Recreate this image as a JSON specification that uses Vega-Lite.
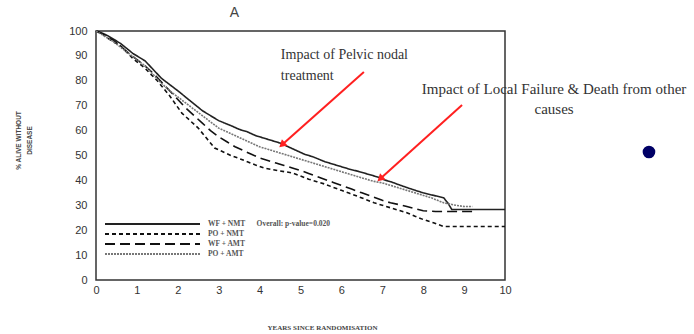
{
  "$schema": "https://vega.github.io/schema/vega-lite/v6.json",
  "width": 409,
  "height": 249,
  "autosize": {"type": "none"},
  "padding": {"left": 96, "top": 31, "right": 189, "bottom": 54},
  "background": "white",
  "title": {"text": "A", "anchor": "middle", "frame": "group", "dx": -66, "offset": 5, "fontSize": 14, "font": "Liberation Sans", "fontWeight": "normal", "color": "#444"},
  "config": {
    "view": {"stroke": "#333", "strokeWidth": 1.5},
    "axis": {"grid": false, "domain": false, "labelFont": "Liberation Sans", "labelFontSize": 11, "labelColor": "#333"},
    "legend": {"padding": 0}
  },
  "datasets": {
    "curves": [
      {"x": 0, "y": 100, "g": "WF + NMT"}, {"x": 0.1, "y": 99.5, "g": "WF + NMT"}, {"x": 0.2, "y": 98.8, "g": "WF + NMT"}, {"x": 0.3, "y": 98, "g": "WF + NMT"}, {"x": 0.45, "y": 96.5, "g": "WF + NMT"}, {"x": 0.6, "y": 95, "g": "WF + NMT"}, {"x": 0.75, "y": 93, "g": "WF + NMT"}, {"x": 0.9, "y": 91, "g": "WF + NMT"}, {"x": 1.05, "y": 89.5, "g": "WF + NMT"}, {"x": 1.2, "y": 88, "g": "WF + NMT"}, {"x": 1.4, "y": 84.5, "g": "WF + NMT"}, {"x": 1.6, "y": 81, "g": "WF + NMT"}, {"x": 1.8, "y": 78.5, "g": "WF + NMT"}, {"x": 2.0, "y": 76, "g": "WF + NMT"}, {"x": 2.15, "y": 74, "g": "WF + NMT"}, {"x": 2.3, "y": 72, "g": "WF + NMT"}, {"x": 2.45, "y": 70, "g": "WF + NMT"}, {"x": 2.6, "y": 68, "g": "WF + NMT"}, {"x": 2.8, "y": 66, "g": "WF + NMT"}, {"x": 3.0, "y": 64, "g": "WF + NMT"}, {"x": 3.15, "y": 63, "g": "WF + NMT"}, {"x": 3.3, "y": 62, "g": "WF + NMT"}, {"x": 3.5, "y": 60.5, "g": "WF + NMT"}, {"x": 3.7, "y": 59.5, "g": "WF + NMT"}, {"x": 3.9, "y": 58, "g": "WF + NMT"}, {"x": 4.1, "y": 57, "g": "WF + NMT"}, {"x": 4.3, "y": 56, "g": "WF + NMT"}, {"x": 4.5, "y": 55, "g": "WF + NMT"}, {"x": 4.7, "y": 53.5, "g": "WF + NMT"}, {"x": 4.9, "y": 52, "g": "WF + NMT"}, {"x": 5.1, "y": 50.5, "g": "WF + NMT"}, {"x": 5.3, "y": 49.5, "g": "WF + NMT"}, {"x": 5.45, "y": 48.5, "g": "WF + NMT"}, {"x": 5.6, "y": 47.5, "g": "WF + NMT"}, {"x": 5.8, "y": 46.5, "g": "WF + NMT"}, {"x": 6.0, "y": 45.5, "g": "WF + NMT"}, {"x": 6.2, "y": 44.5, "g": "WF + NMT"}, {"x": 6.4, "y": 43.7, "g": "WF + NMT"}, {"x": 6.65, "y": 42.5, "g": "WF + NMT"}, {"x": 6.9, "y": 41.3, "g": "WF + NMT"}, {"x": 7.05, "y": 40.2, "g": "WF + NMT"}, {"x": 7.2, "y": 39.5, "g": "WF + NMT"}, {"x": 7.35, "y": 38.6, "g": "WF + NMT"}, {"x": 7.5, "y": 37.7, "g": "WF + NMT"}, {"x": 7.75, "y": 36.3, "g": "WF + NMT"}, {"x": 8.0, "y": 35, "g": "WF + NMT"}, {"x": 8.25, "y": 34, "g": "WF + NMT"}, {"x": 8.5, "y": 33, "g": "WF + NMT"}, {"x": 8.6, "y": 31, "g": "WF + NMT"}, {"x": 8.7, "y": 28.3, "g": "WF + NMT"}, {"x": 10, "y": 28.3, "g": "WF + NMT"},
      {"x": 0, "y": 100, "g": "PO + NMT"}, {"x": 0.15, "y": 99, "g": "PO + NMT"}, {"x": 0.3, "y": 97, "g": "PO + NMT"}, {"x": 0.45, "y": 95.5, "g": "PO + NMT"}, {"x": 0.6, "y": 94, "g": "PO + NMT"}, {"x": 0.75, "y": 91.5, "g": "PO + NMT"}, {"x": 0.9, "y": 89, "g": "PO + NMT"}, {"x": 1.05, "y": 87, "g": "PO + NMT"}, {"x": 1.2, "y": 85, "g": "PO + NMT"}, {"x": 1.35, "y": 82.5, "g": "PO + NMT"}, {"x": 1.5, "y": 80, "g": "PO + NMT"}, {"x": 1.65, "y": 77, "g": "PO + NMT"}, {"x": 1.8, "y": 74, "g": "PO + NMT"}, {"x": 1.95, "y": 70.5, "g": "PO + NMT"}, {"x": 2.1, "y": 67, "g": "PO + NMT"}, {"x": 2.3, "y": 64, "g": "PO + NMT"}, {"x": 2.5, "y": 61, "g": "PO + NMT"}, {"x": 2.7, "y": 57, "g": "PO + NMT"}, {"x": 2.9, "y": 53, "g": "PO + NMT"}, {"x": 3.1, "y": 51.5, "g": "PO + NMT"}, {"x": 3.3, "y": 50, "g": "PO + NMT"}, {"x": 3.5, "y": 48.8, "g": "PO + NMT"}, {"x": 3.7, "y": 47.5, "g": "PO + NMT"}, {"x": 3.9, "y": 46.2, "g": "PO + NMT"}, {"x": 4.1, "y": 45, "g": "PO + NMT"}, {"x": 4.3, "y": 44.4, "g": "PO + NMT"}, {"x": 4.5, "y": 43.8, "g": "PO + NMT"}, {"x": 4.8, "y": 43, "g": "PO + NMT"}, {"x": 5.0, "y": 41.8, "g": "PO + NMT"}, {"x": 5.2, "y": 40.5, "g": "PO + NMT"}, {"x": 5.4, "y": 39.5, "g": "PO + NMT"}, {"x": 5.6, "y": 38.5, "g": "PO + NMT"}, {"x": 5.8, "y": 37.2, "g": "PO + NMT"}, {"x": 6.0, "y": 36, "g": "PO + NMT"}, {"x": 6.2, "y": 34.8, "g": "PO + NMT"}, {"x": 6.4, "y": 33.6, "g": "PO + NMT"}, {"x": 6.6, "y": 32.3, "g": "PO + NMT"}, {"x": 6.8, "y": 31, "g": "PO + NMT"}, {"x": 7.0, "y": 30, "g": "PO + NMT"}, {"x": 7.2, "y": 29, "g": "PO + NMT"}, {"x": 7.4, "y": 28, "g": "PO + NMT"}, {"x": 7.6, "y": 27, "g": "PO + NMT"}, {"x": 7.8, "y": 25.6, "g": "PO + NMT"}, {"x": 8.0, "y": 24.3, "g": "PO + NMT"}, {"x": 8.25, "y": 23, "g": "PO + NMT"}, {"x": 8.5, "y": 21.5, "g": "PO + NMT"}, {"x": 10, "y": 21.5, "g": "PO + NMT"},
      {"x": 0, "y": 100, "g": "WF + AMT"}, {"x": 0.2, "y": 98.5, "g": "WF + AMT"}, {"x": 0.4, "y": 96.5, "g": "WF + AMT"}, {"x": 0.6, "y": 94, "g": "WF + AMT"}, {"x": 0.8, "y": 91, "g": "WF + AMT"}, {"x": 1.0, "y": 88.5, "g": "WF + AMT"}, {"x": 1.2, "y": 86, "g": "WF + AMT"}, {"x": 1.4, "y": 83, "g": "WF + AMT"}, {"x": 1.6, "y": 79.5, "g": "WF + AMT"}, {"x": 1.8, "y": 76, "g": "WF + AMT"}, {"x": 2.0, "y": 72.5, "g": "WF + AMT"}, {"x": 2.2, "y": 69, "g": "WF + AMT"}, {"x": 2.4, "y": 66, "g": "WF + AMT"}, {"x": 2.6, "y": 63, "g": "WF + AMT"}, {"x": 2.8, "y": 60, "g": "WF + AMT"}, {"x": 3.0, "y": 57.5, "g": "WF + AMT"}, {"x": 3.2, "y": 55.5, "g": "WF + AMT"}, {"x": 3.4, "y": 53.5, "g": "WF + AMT"}, {"x": 3.6, "y": 52, "g": "WF + AMT"}, {"x": 3.8, "y": 50.5, "g": "WF + AMT"}, {"x": 4.0, "y": 49, "g": "WF + AMT"}, {"x": 4.2, "y": 48, "g": "WF + AMT"}, {"x": 4.4, "y": 47, "g": "WF + AMT"}, {"x": 4.6, "y": 46, "g": "WF + AMT"}, {"x": 4.8, "y": 45, "g": "WF + AMT"}, {"x": 5.0, "y": 44, "g": "WF + AMT"}, {"x": 5.2, "y": 42.8, "g": "WF + AMT"}, {"x": 5.4, "y": 41.6, "g": "WF + AMT"}, {"x": 5.6, "y": 40.4, "g": "WF + AMT"}, {"x": 5.8, "y": 39.2, "g": "WF + AMT"}, {"x": 6.0, "y": 38, "g": "WF + AMT"}, {"x": 6.25, "y": 36.5, "g": "WF + AMT"}, {"x": 6.5, "y": 35, "g": "WF + AMT"}, {"x": 6.75, "y": 33.5, "g": "WF + AMT"}, {"x": 7.0, "y": 32, "g": "WF + AMT"}, {"x": 7.2, "y": 31, "g": "WF + AMT"}, {"x": 7.4, "y": 30.3, "g": "WF + AMT"}, {"x": 7.6, "y": 29.5, "g": "WF + AMT"}, {"x": 7.8, "y": 28.6, "g": "WF + AMT"}, {"x": 8.0, "y": 27.8, "g": "WF + AMT"}, {"x": 8.3, "y": 27.5, "g": "WF + AMT"}, {"x": 9.3, "y": 27.5, "g": "WF + AMT"},
      {"x": 0, "y": 100, "g": "PO + AMT"}, {"x": 0.2, "y": 98, "g": "PO + AMT"}, {"x": 0.4, "y": 96, "g": "PO + AMT"}, {"x": 0.6, "y": 93.5, "g": "PO + AMT"}, {"x": 0.8, "y": 91, "g": "PO + AMT"}, {"x": 1.0, "y": 88.5, "g": "PO + AMT"}, {"x": 1.2, "y": 86, "g": "PO + AMT"}, {"x": 1.4, "y": 82.5, "g": "PO + AMT"}, {"x": 1.6, "y": 79, "g": "PO + AMT"}, {"x": 1.8, "y": 76, "g": "PO + AMT"}, {"x": 2.0, "y": 73.5, "g": "PO + AMT"}, {"x": 2.2, "y": 71, "g": "PO + AMT"}, {"x": 2.4, "y": 68.5, "g": "PO + AMT"}, {"x": 2.6, "y": 66, "g": "PO + AMT"}, {"x": 2.8, "y": 63.5, "g": "PO + AMT"}, {"x": 3.0, "y": 61, "g": "PO + AMT"}, {"x": 3.2, "y": 59.5, "g": "PO + AMT"}, {"x": 3.4, "y": 58, "g": "PO + AMT"}, {"x": 3.6, "y": 56.5, "g": "PO + AMT"}, {"x": 3.8, "y": 55, "g": "PO + AMT"}, {"x": 4.0, "y": 53.5, "g": "PO + AMT"}, {"x": 4.2, "y": 52.5, "g": "PO + AMT"}, {"x": 4.4, "y": 51.5, "g": "PO + AMT"}, {"x": 4.6, "y": 50.5, "g": "PO + AMT"}, {"x": 4.8, "y": 49.5, "g": "PO + AMT"}, {"x": 5.0, "y": 48.5, "g": "PO + AMT"}, {"x": 5.3, "y": 47, "g": "PO + AMT"}, {"x": 5.6, "y": 45.5, "g": "PO + AMT"}, {"x": 5.9, "y": 44, "g": "PO + AMT"}, {"x": 6.2, "y": 42.5, "g": "PO + AMT"}, {"x": 6.5, "y": 41, "g": "PO + AMT"}, {"x": 6.8, "y": 39.6, "g": "PO + AMT"}, {"x": 7.0, "y": 39, "g": "PO + AMT"}, {"x": 7.3, "y": 37.5, "g": "PO + AMT"}, {"x": 7.6, "y": 36, "g": "PO + AMT"}, {"x": 7.9, "y": 34.5, "g": "PO + AMT"}, {"x": 8.2, "y": 33, "g": "PO + AMT"}, {"x": 8.5, "y": 31, "g": "PO + AMT"}, {"x": 8.8, "y": 30, "g": "PO + AMT"}, {"x": 9.0, "y": 29.5, "g": "PO + AMT"}, {"x": 9.2, "y": 29.5, "g": "PO + AMT"}
    ],
    "note1": [
      {"x": 4.52, "y": 90.4, "label": ["Impact of Pelvic nodal", "treatment"]}
    ],
    "note2": [
      {"x": 11.2, "y": 76.7, "label": ["Impact of Local Failure & Death from other", "causes"]}
    ],
    "arrows": [
      {"x": 6.55, "y": 83.5, "x2": 4.57, "y2": 54.6},
      {"x": 8.95, "y": 70.3, "x2": 6.97, "y2": 41.0}
    ],
    "dot": [{"x": 13.52, "y": 51.4}]
  },
  "encoding": {
    "x": {"field": "x", "type": "quantitative",
      "scale": {"domain": [0, 10], "nice": false, "zero": false},
      "axis": {"values": [0,1,2,3,4,5,6,7,8,9,10], "ticks": false, "labelPadding": 4, "labelFlush": false,
        "title": "YEARS SINCE  RANDOMISATION", "titleFont": "Liberation Serif", "titleFontSize": 7, "titleFontWeight": "bold", "titleColor": "#444", "titleX": 226, "titleY": 47, "titleBaseline": "middle"}},
    "y": {"field": "y", "type": "quantitative",
      "scale": {"domain": [0, 100], "nice": false},
      "axis": {"values": [0,10,20,30,40,50,60,70,80,90,100], "ticks": false, "labelPadding": 9,
        "title": ["% ALIVE WITHOUT", "DISEASE"], "titleFont": "Liberation Sans", "titleFontSize": 6.5, "titleFontWeight": "bold", "titleColor": "#444", "titleLineHeight": 11, "titleX": -75, "titleY": 109, "titleAngle": -90}}
  },
  "layer": [
    {
      "data": {"name": "curves"},
      "mark": {"type": "line", "strokeWidth": 1.6},
      "encoding": {
        "detail": {"field": "g"},
        "stroke": {"field": "g", "type": "nominal",
          "scale": {"domain": ["WF + NMT", "PO + NMT", "WF + AMT", "PO + AMT"], "range": ["#222222", "#111111", "#111111", "#777777"]},
          "legend": {"orient": "none", "legendX": 3, "legendY": 187, "title": null,
            "symbolType": "M0,0H19", "symbolSize": 100, "symbolStrokeWidth": 1.8, "labelOffset": 97, "rowPadding": 0,
            "labelFont": "Liberation Serif", "labelFontSize": 7.5, "labelFontWeight": "bold", "labelColor": "#555", "labelLimit": 300,
            "labelExpr": "datum.label == 'WF + NMT' ? 'WF + NMT\u00a0\u00a0\u00a0\u00a0\u00a0\u00a0Overall: p-value=0.020' : datum.label"}},
        "strokeDash": {"field": "g", "type": "nominal",
          "scale": {"domain": ["WF + NMT", "PO + NMT", "WF + AMT", "PO + AMT"], "range": [[1, 0], [4, 3], [10, 5], [2, 1]]},
          "legend": {"orient": "none", "legendX": 3, "legendY": 187, "title": null,
            "symbolType": "M0,0H19", "symbolSize": 100, "symbolStrokeWidth": 1.8, "labelOffset": 97, "rowPadding": 0,
            "labelFont": "Liberation Serif", "labelFontSize": 7.5, "labelFontWeight": "bold", "labelColor": "#555", "labelLimit": 300,
            "labelExpr": "datum.label == 'WF + NMT' ? 'WF + NMT\u00a0\u00a0\u00a0\u00a0\u00a0\u00a0Overall: p-value=0.020' : datum.label"}}
      }
    },
    {
      "data": {"name": "note1"},
      "mark": {"type": "text", "font": "Liberation Serif", "fontSize": 14, "color": "#333", "baseline": "middle", "align": "left", "lineHeight": 21},
      "encoding": {"text": {"field": "label"}}
    },
    {
      "data": {"name": "note2"},
      "mark": {"type": "text", "font": "Liberation Serif", "fontSize": 15, "color": "#333", "baseline": "middle", "align": "center", "lineHeight": 20},
      "encoding": {"text": {"field": "label"}}
    },
    {
      "data": {"name": "arrows"},
      "mark": {"type": "rule", "color": "#ff2020", "strokeWidth": 2},
      "encoding": {"x2": {"field": "x2"}, "y2": {"field": "y2"}}
    },
    {
      "data": {"name": "arrows"},
      "mark": {"type": "point", "shape": "triangle", "filled": true, "color": "#ff2020", "opacity": 1, "size": 70, "angle": 228},
      "encoding": {"x": {"field": "x2", "type": "quantitative"}, "y": {"field": "y2", "type": "quantitative"}}
    },
    {
      "data": {"name": "dot"},
      "mark": {"type": "point", "shape": "circle", "filled": true, "color": "#000066", "opacity": 1, "size": 160},
      "encoding": {}
    }
  ]
}
